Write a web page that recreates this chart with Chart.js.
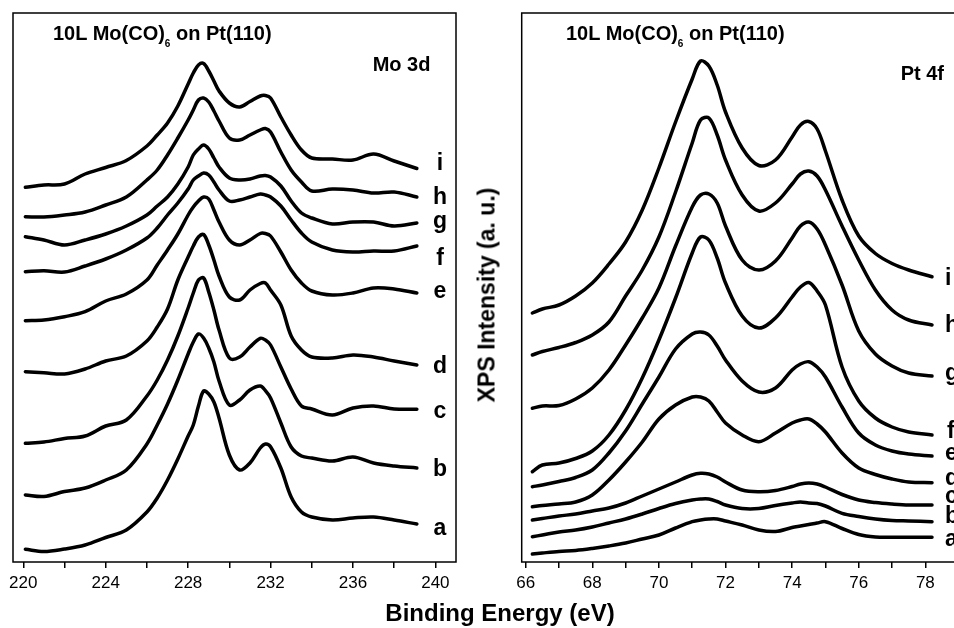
<!DOCTYPE html>
<html>
<head>
<meta charset="utf-8">
<script src="https://cdn.jsdelivr.net/npm/chart.js@4.4.1/dist/chart.umd.min.js"></script>
<style>
  html, body { margin: 0; padding: 0; background: #fff; overflow: hidden; }
  #wrap { position: relative; width: 954px; height: 628px; overflow: hidden;
          font-family: "Liberation Sans", Arial, sans-serif; color: #000; }
  canvas { position: absolute; top: 0; }
  .t { position: absolute; font-weight: bold; line-height: 1; white-space: nowrap; }
  .ttl { font-size: 20px; }
  .ttl .sub { font-size: 10px; position: relative; top: 7px; }
  .lbl { font-size: 23px; }
  .lblL { width: 20px; text-align: center; }
</style>
</head>
<body>
<div id="wrap">
  <canvas id="moChart" width="470" height="628" style="left:0"></canvas>
  <canvas id="ptChart" width="510" height="628" style="left:480px"></canvas>

  <div class="t ttl" style="left:53px;top:23px">10L Mo(CO)<span class="sub">6</span> on Pt(110)</div>
  <div class="t ttl" style="left:566px;top:23px">10L Mo(CO)<span class="sub">6</span> on Pt(110)</div>
  <div class="t ttl" style="left:372.7px;top:53.8px">Mo 3d</div>
  <div class="t ttl" style="left:900.7px;top:63.1px">Pt 4f</div>

  <div class="t lbl lblL" style="left:430px;top:150.5px">i</div>
  <div class="t lbl lblL" style="left:430px;top:184.5px">h</div>
  <div class="t lbl lblL" style="left:430px;top:208.5px">g</div>
  <div class="t lbl lblL" style="left:430px;top:245.5px">f</div>
  <div class="t lbl lblL" style="left:430px;top:278.8px">e</div>
  <div class="t lbl lblL" style="left:430px;top:353.8px">d</div>
  <div class="t lbl lblL" style="left:430px;top:398.8px">c</div>
  <div class="t lbl lblL" style="left:430px;top:457.2px">b</div>
  <div class="t lbl lblL" style="left:430px;top:515.5px">a</div>

  <div class="t lbl" style="left:945px;top:265.5px">i</div>
  <div class="t lbl" style="left:945px;top:312.5px">h</div>
  <div class="t lbl" style="left:945px;top:360.5px">g</div>
  <div class="t lbl" style="left:947px;top:418.5px">f</div>
  <div class="t lbl" style="left:945px;top:440.5px">e</div>
  <div class="t lbl" style="left:945px;top:465.5px">d</div>
  <div class="t lbl" style="left:945px;top:483.5px">c</div>
  <div class="t lbl" style="left:945px;top:503.5px">b</div>
  <div class="t lbl" style="left:945px;top:526.5px">a</div>

  <div class="t" style="font-size:23px;left:487.4px;top:295px;transform:translate(-50%,-50%) rotate(-90deg)">XPS Intensity (a. u.)</div>
  <div class="t" style="font-size:24px;left:500px;top:601.4px;transform:translateX(-50%)">Binding Energy (eV)</div>
</div>

<script>
// Mo 3d panel (binding energy, eV) and spectra a..i, offset intensities (a.u.)
const moEnergy = [220.1, 221, 222, 223, 224, 225, 226, 226.5, 227, 227.5, 228, 228.25, 228.5, 228.75,
  229, 229.25, 229.5, 230, 230.5, 231, 231.5, 231.75, 232, 232.5, 233, 233.5, 234, 235, 236, 237, 238, 239.1];
const moA = [12.7, 10.5, 13, 17, 24.5, 32, 50, 64, 82, 103, 126, 137, 156, 171, 168, 160, 144, 107, 92, 99,
  114, 118, 115.3, 94, 65, 50, 45, 42, 44, 45, 42, 38];
const moB = [67, 65.5, 70.5, 74, 82, 92, 118, 137, 158, 182, 208, 220, 228, 224, 214, 200, 181, 157, 162, 172,
  176, 171.3, 164, 139, 115, 106, 104, 101, 105, 99, 96, 94];
const moC = [118.7, 120, 123.5, 126, 136, 142, 166, 182, 202, 226, 254, 269, 282, 284, 270, 252, 232, 204, 205,
  215, 223.7, 222, 217, 195, 173, 156, 153, 147, 154, 156, 153, 152.7];
const moD = [190.3, 189.3, 188, 193, 201, 206, 221, 235, 253, 282, 305, 316, 325, 327.5, 317, 302, 286, 265, 262,
  272, 278.5, 279, 272, 257, 226, 212, 205, 204, 207, 205, 201, 197];
const moE = [241.3, 242, 245.3, 250.3, 261, 268, 282, 297, 312, 328, 347, 355, 361, 365, 363, 352, 340, 322, 317,
  322, 328.5, 328.5, 326, 310, 292, 279, 271, 267, 269, 274, 273, 269];
const moF = [290.3, 291.3, 290, 296, 303, 312, 324, 334, 347, 359, 373, 382, 386, 389, 387, 380, 372, 361, 362,
  365, 368, 367, 365, 356, 342, 329, 320, 312, 310, 311, 311, 316];
const moG = [325.3, 322, 317, 322, 328, 336, 347, 356, 365, 378, 395, 407, 413, 417, 413, 404, 395, 384, 382,
  383, 386, 386.5, 385, 376, 361, 349, 344, 338, 340, 340, 336, 339];
const moH = [345.3, 345, 347, 350, 357, 365, 382, 392, 407, 424, 442, 452, 462, 464, 460, 451, 441, 424, 422,
  427, 432, 433.5, 430, 410, 392, 380, 371, 373, 372, 369, 370, 365];
const moI = [374.7, 377, 378, 388, 394.5, 401.5, 416, 427, 439, 456, 478, 489, 497, 498.5, 491, 481, 471, 459,
  455, 460.5, 466, 466.5, 464, 445, 427, 412, 404, 403, 402, 408, 401, 393.5];
const moTicks = [220, 222, 224, 226, 228, 230, 232, 234, 236, 238, 240];
const moTickLabels = [220, 224, 228, 232, 236, 240];

// Pt 4f panel
const ptEnergy = [66.2, 66.5, 67, 67.5, 68, 68.5, 69, 69.5, 70, 70.5, 71, 71.25, 71.5, 71.75, 72, 72.5, 73,
  73.5, 74, 74.25, 74.5, 74.75, 75, 75.5, 76, 76.5, 77, 77.5, 78.2];
const ptA = [8, 9, 10.5, 11.5, 13.5, 16, 19, 23, 27, 34, 40.3, 42, 43, 43, 41, 37, 32, 30.5, 34.5, 36, 37.5,
  39, 40.3, 33.5, 27.5, 25, 24.7, 24.7, 24.7];
const ptB = [25.3, 27, 30, 32, 35, 39, 43, 48, 53.5, 58.5, 62, 63, 63, 60.5, 57, 53.5, 53.5, 56.5, 59, 60, 59,
  58.5, 56, 48.7, 45.5, 43, 41.5, 41, 40.3];
const ptC = [42, 43.5, 46, 48, 51, 54, 59, 66, 73, 80, 87, 88.7, 88, 85, 80, 72, 70.3, 71.5, 75.5, 78, 79, 78,
  75, 67.5, 62, 59.5, 58, 57, 57];
const ptD = [55.3, 56.5, 58, 60, 67, 82, 100, 120, 143, 157, 165, 165, 161, 150, 139, 127, 120.3, 129, 139, 142,
  143, 138, 130, 109, 94, 87.5, 83, 80, 79.3];
const ptE = [75.3, 77, 80.5, 84.5, 92, 109, 131, 158, 185, 213, 228, 230, 227, 216, 202, 181, 170, 174, 192,
  198, 200.3, 195, 185, 155, 129, 117, 111, 108, 106];
const ptF = [90.3, 97, 99, 103.5, 111, 127, 152, 184, 222, 264, 309, 325, 322, 304, 279, 246, 234, 244, 265,
  275, 279.5, 271, 257, 195, 161, 144, 135, 130, 127];
const ptG = [153.7, 156, 156.5, 163, 174, 192, 217, 244, 274, 316, 355, 367, 368, 359, 336, 302, 292, 301, 324,
  336, 340, 333, 317, 277, 231, 208, 196, 189, 186];
const ptH = [207, 210.5, 214.5, 219.5, 227, 240, 266, 292, 325, 370, 419, 442, 444, 427, 402, 367, 351, 359,
  378, 388, 391, 386, 372, 336, 302, 272, 252, 242, 237];
const ptI = [249, 253, 257, 266, 279, 298, 320, 352, 394, 440, 483, 501, 496, 477, 450, 414, 396.5, 402, 425,
  437, 440.5, 433, 411, 362, 326, 308.5, 298.5, 292, 285.3];
const ptTicks = [66, 67, 68, 69, 70, 71, 72, 73, 74, 75, 76, 77, 78];
const ptTickLabels = [66, 68, 70, 72, 74, 76, 78];

const FONT = '"Liberation Sans", Arial, sans-serif';

// draws the box round the plot area
const frame = {
  id: 'frame',
  afterDraw(chart) {
    const { ctx, chartArea: a } = chart;
    ctx.save();
    ctx.strokeStyle = '#000';
    ctx.lineWidth = 1.5;
    ctx.strokeRect(a.left, a.top, a.right - a.left, a.bottom - a.top);
    ctx.restore();
  }
};

function makePanel(id, energy, series, xMin, xMax, ticks, tickLabels, pad) {
  return new Chart(document.getElementById(id), {
    type: 'line',
    data: {
      datasets: series.map(s => ({
        data: energy.map((e, k) => ({ x: e, y: s[k] })),
        borderColor: '#000',
        borderWidth: 3.5,
        pointRadius: 0,
        fill: false,
        tension: 0.35,
        borderJoinStyle: 'round',
        borderCapStyle: 'round',
      })),
    },
    options: {
      responsive: false,
      animation: false,
      devicePixelRatio: 1,
      layout: { padding: pad },
      plugins: { legend: { display: false }, tooltip: { enabled: false } },
      scales: {
        x: {
          type: 'linear',
          min: xMin,
          max: xMax,
          afterBuildTicks: sc => { sc.ticks = ticks.map(v => ({ value: v })); },
          afterFit: sc => { sc.height = 66; },
          ticks: {
            autoSkip: false,
            maxRotation: 0,
            padding: 5,
            color: '#000',
            font: { family: FONT, size: 17 },
            callback: v => tickLabels.includes(v) ? String(v) : '',
          },
          grid: { drawOnChartArea: false, drawTicks: true, tickLength: 6, color: '#000', lineWidth: 1.5 },
          border: { display: false },
        },
        y: { display: false, min: 0, max: 549 },
      },
    },
    plugins: [frame],
  });
}

makePanel('moChart', moEnergy, [moA, moB, moC, moD, moE, moF, moG, moH, moI],
  219.5, 241, moTicks, moTickLabels, { left: 13, right: 14, top: 13, bottom: 0 });
makePanel('ptChart', ptEnergy, [ptA, ptB, ptC, ptD, ptE, ptF, ptG, ptH, ptI],
  65.88, 79.5, ptTicks, ptTickLabels, { left: 41.7, right: 14.7, top: 13, bottom: 0 });
</script>
</body>
</html>
